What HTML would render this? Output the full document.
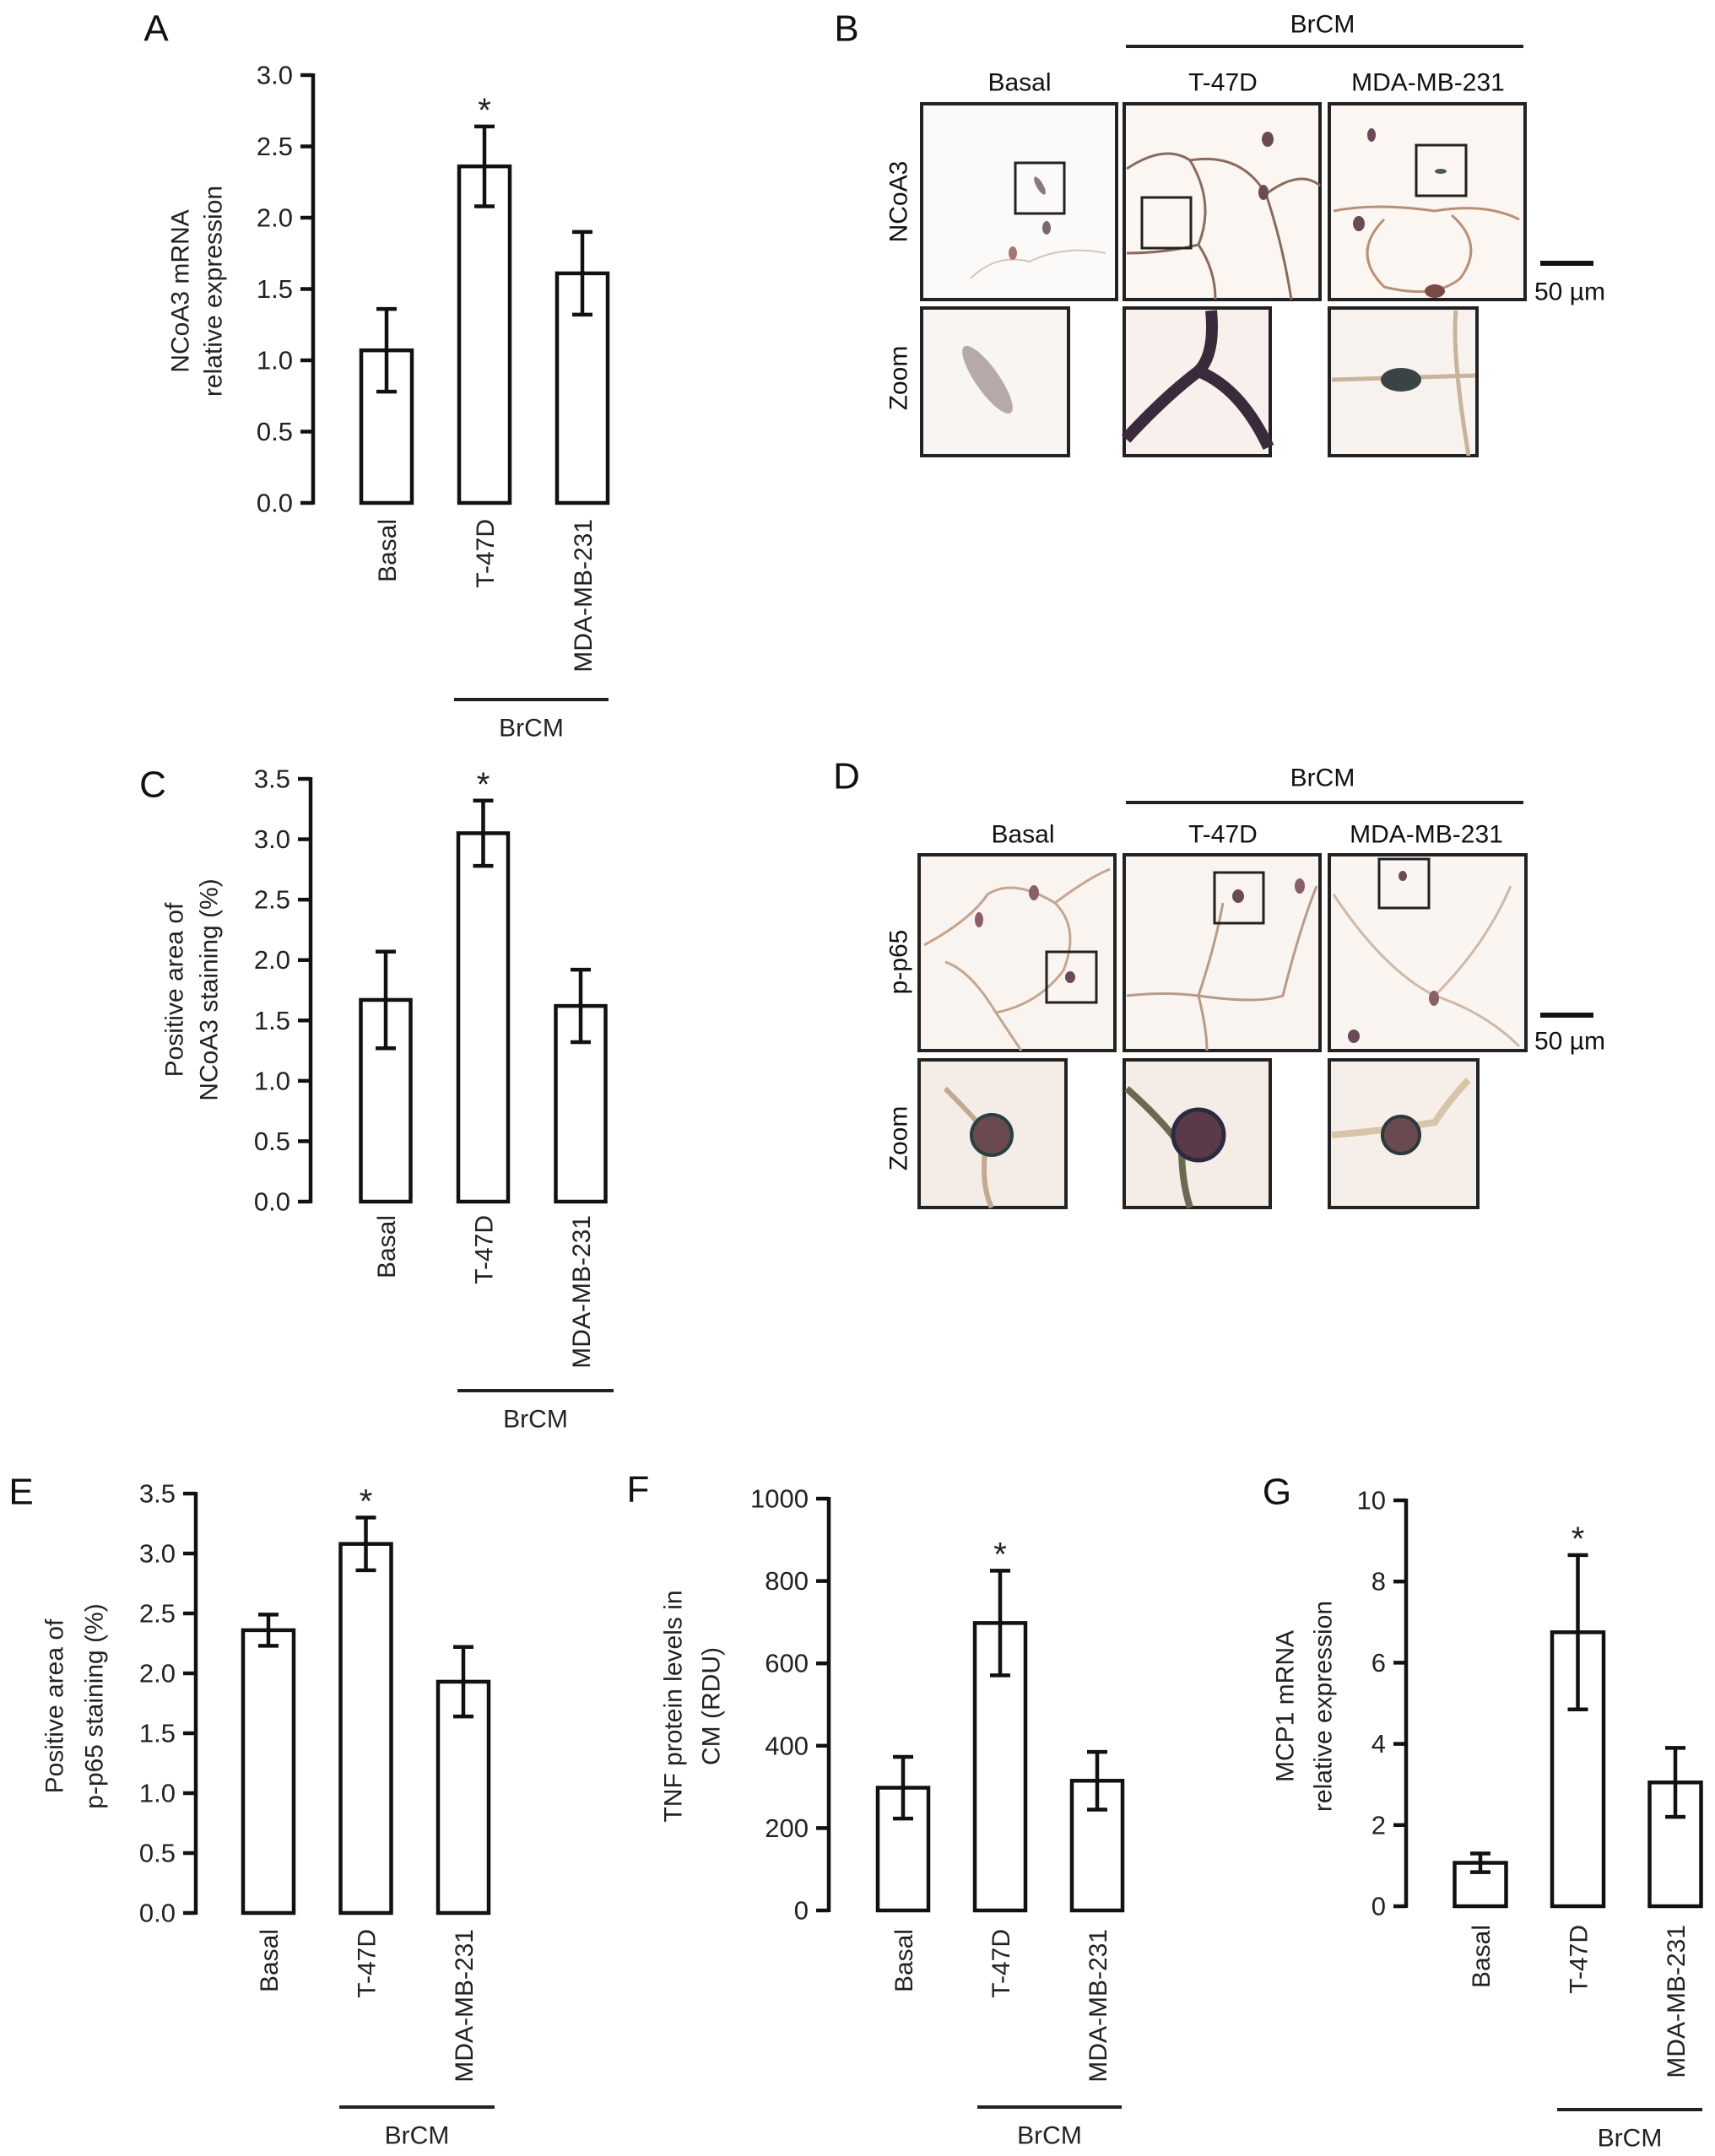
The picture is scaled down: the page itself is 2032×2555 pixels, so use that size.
<!DOCTYPE html>
<html><head><meta charset="utf-8">
<style>
html,body{margin:0;padding:0;background:#fff;}
svg{display:block;font-family:"Liberation Sans",Arial,sans-serif;}
</style></head>
<body>
<svg id="fig" width="2032" height="2555" viewBox="0 0 2032 2555" xmlns="http://www.w3.org/2000/svg">
<rect width="2032" height="2555" fill="#fff"/>
<!-- Panel letters -->
<g font-size="44" fill="#111" text-anchor="middle" dominant-baseline="central">
<text x="185" y="34">A</text>
<text x="1003" y="34">B</text>
<text x="181" y="930">C</text>
<text x="1003" y="920">D</text>
<text x="25" y="1768">E</text>
<text x="756" y="1765">F</text>
<text x="1513" y="1768">G</text>
</g>

<!-- Panel B micrographs -->
<g font-size="30" fill="#111">
<text x="1567" y="29" text-anchor="middle" dominant-baseline="central">BrCM</text>
<line x1="1334" y1="55" x2="1805" y2="55" stroke="#222" stroke-width="4"/>
<text x="1208" y="98" text-anchor="middle" dominant-baseline="central">Basal</text>
<text x="1449" y="98" text-anchor="middle" dominant-baseline="central">T-47D</text>
<text x="1692" y="98" text-anchor="middle" dominant-baseline="central">MDA-MB-231</text>
<text transform="translate(1065,239) rotate(-90)" text-anchor="middle" dominant-baseline="central">NCoA3</text>
<text transform="translate(1065,448) rotate(-90)" text-anchor="middle" dominant-baseline="central">Zoom</text>
<g>
<rect x="1092" y="123" width="231" height="232" fill="#fcfaf8" stroke="#222" stroke-width="4"/>
<path d="M1150 330 Q1180 300 1220 310 Q1260 290 1310 300" stroke="#d9c4b4" stroke-width="2" fill="none"/>
<ellipse cx="1232" cy="220" rx="4" ry="12" fill="#8a7a80" transform="rotate(-30 1232 220)"/>
<ellipse cx="1200" cy="300" rx="5" ry="8" fill="#a47870"/>
<ellipse cx="1240" cy="270" rx="5" ry="8" fill="#7a6870"/>
<rect x="1203" y="193" width="58" height="60" fill="none" stroke="#222" stroke-width="3"/>
</g>
<g>
<rect x="1332" y="123" width="232" height="232" fill="#fcf6f2" stroke="#222" stroke-width="4"/>
<path d="M1335 200 Q1380 170 1410 190 Q1440 240 1420 290 Q1380 300 1335 300 M1420 290 Q1440 320 1440 355 M1410 190 Q1470 180 1500 230 Q1520 290 1530 355 M1500 230 Q1540 200 1564 220" stroke="#8b6a5c" stroke-width="3" fill="none"/>
<ellipse cx="1502" cy="165" rx="7" ry="9" fill="#6a4a55"/>
<ellipse cx="1497" cy="228" rx="6" ry="9" fill="#6a4a55"/>
<rect x="1353" y="234" width="58" height="60" fill="none" stroke="#222" stroke-width="3"/>
</g>
<g>
<rect x="1575" y="123" width="232" height="232" fill="#fcf6f2" stroke="#222" stroke-width="4"/>
<path d="M1580 250 Q1630 240 1700 250 Q1760 240 1800 260 M1640 260 Q1600 300 1640 340 Q1700 355 1730 330 Q1760 290 1720 255" stroke="#b89078" stroke-width="3" fill="none"/>
<ellipse cx="1610" cy="265" rx="7" ry="9" fill="#6a4a55"/>
<ellipse cx="1625" cy="160" rx="5" ry="8" fill="#6a4a55"/>
<ellipse cx="1700" cy="345" rx="12" ry="8" fill="#7a4a48"/>
<ellipse cx="1707" cy="203" rx="7" ry="3" fill="#4a5a58"/>
<rect x="1678" y="172" width="59" height="60" fill="none" stroke="#222" stroke-width="3"/>
</g>
<g>
<rect x="1092" y="365" width="174" height="175" fill="#f8f5f2" stroke="#222" stroke-width="4"/>
<ellipse cx="1170" cy="450" rx="14" ry="48" fill="#9a8a8a" opacity="0.7" transform="rotate(-35 1170 450)"/>
</g>
<g>
<rect x="1332" y="365" width="173" height="175" fill="#f8f0ec" stroke="#222" stroke-width="4"/>
<path d="M1334 520 Q1380 470 1420 440 Q1440 420 1435 368 M1420 440 Q1470 460 1503 530" stroke="#3a2a3a" stroke-width="14" fill="none"/>
</g>
<g>
<rect x="1575" y="365" width="175" height="175" fill="#f8f2ee" stroke="#222" stroke-width="4"/>
<path d="M1578 450 L1748 445 M1725 368 Q1720 420 1740 540" stroke="#c8b49a" stroke-width="5" fill="none"/>
<ellipse cx="1660" cy="450" rx="24" ry="14" fill="#3a4444"/>
</g>
<line x1="1825" y1="312" x2="1888" y2="312" stroke="#111" stroke-width="6"/>
<text x="1818" y="346" dominant-baseline="central">50 µm</text>
</g>

<!-- Panel D micrographs -->
<g font-size="30" fill="#111">
<text x="1567" y="922" text-anchor="middle" dominant-baseline="central">BrCM</text>
<line x1="1334" y1="951" x2="1805" y2="951" stroke="#222" stroke-width="4"/>
<text x="1212" y="989" text-anchor="middle" dominant-baseline="central">Basal</text>
<text x="1449" y="989" text-anchor="middle" dominant-baseline="central">T-47D</text>
<text x="1690" y="989" text-anchor="middle" dominant-baseline="central">MDA-MB-231</text>
<text transform="translate(1065,1140) rotate(-90)" text-anchor="middle" dominant-baseline="central">p-p65</text>
<text transform="translate(1065,1349) rotate(-90)" text-anchor="middle" dominant-baseline="central">Zoom</text>
<g>
<rect x="1089" y="1013" width="232" height="232" fill="#faf4f0" stroke="#222" stroke-width="4"/>
<path d="M1095 1120 Q1150 1090 1170 1060 Q1200 1040 1250 1070 Q1280 1100 1260 1150 Q1230 1190 1180 1200 Q1150 1150 1120 1140 M1180 1200 Q1200 1230 1210 1245 M1250 1070 Q1290 1040 1315 1030" stroke="#c4a690" stroke-width="3" fill="none"/>
<ellipse cx="1160" cy="1090" rx="5" ry="9" fill="#8a6068"/>
<ellipse cx="1225" cy="1058" rx="6" ry="9" fill="#8a6068"/>
<ellipse cx="1268" cy="1158" rx="6" ry="7" fill="#6a4a55"/>
<rect x="1240" y="1128" width="59" height="60" fill="none" stroke="#222" stroke-width="3"/>
</g>
<g>
<rect x="1332" y="1013" width="232" height="232" fill="#faf4f0" stroke="#222" stroke-width="4"/>
<path d="M1335 1180 Q1380 1175 1420 1180 Q1440 1120 1449 1070 M1420 1180 Q1430 1220 1430 1245 M1420 1180 Q1490 1190 1520 1180 Q1540 1100 1560 1050" stroke="#b89a88" stroke-width="3" fill="none"/>
<ellipse cx="1467" cy="1062" rx="7" ry="8" fill="#6a4a55"/>
<ellipse cx="1540" cy="1050" rx="6" ry="9" fill="#8a6068"/>
<rect x="1439" y="1034" width="58" height="60" fill="none" stroke="#222" stroke-width="3"/>
</g>
<g>
<rect x="1575" y="1013" width="233" height="232" fill="#faf5f1" stroke="#222" stroke-width="4"/>
<path d="M1580 1060 Q1640 1150 1700 1180 Q1760 1200 1800 1240 M1700 1180 Q1760 1120 1790 1050" stroke="#d0b8a4" stroke-width="3" fill="none"/>
<ellipse cx="1604" cy="1228" rx="7" ry="8" fill="#6a4a55"/>
<ellipse cx="1699" cy="1183" rx="6" ry="9" fill="#8a6068"/>
<ellipse cx="1662" cy="1038" rx="5" ry="6" fill="#6a4a55"/>
<rect x="1634" y="1018" width="59" height="58" fill="none" stroke="#222" stroke-width="3"/>
</g>
<g>
<rect x="1089" y="1256" width="174" height="175" fill="#f4ece6" stroke="#222" stroke-width="4"/>
<path d="M1120 1290 Q1160 1330 1170 1345 Q1160 1400 1175 1431" stroke="#c4a890" stroke-width="6" fill="none"/>
<circle cx="1175" cy="1345" r="24" fill="#6a4a50" stroke="#2a4040" stroke-width="4"/>
</g>
<g>
<rect x="1332" y="1256" width="173" height="175" fill="#f4ece6" stroke="#222" stroke-width="4"/>
<path d="M1335 1290 Q1380 1330 1400 1360 Q1400 1400 1410 1431" stroke="#6a6a50" stroke-width="8" fill="none"/>
<circle cx="1420" cy="1345" r="30" fill="#5a3a48" stroke="#2a2a40" stroke-width="5"/>
</g>
<g>
<rect x="1575" y="1256" width="176" height="175" fill="#f6efe9" stroke="#222" stroke-width="4"/>
<path d="M1578 1345 Q1640 1340 1700 1330 Q1720 1300 1740 1280" stroke="#d8c4a8" stroke-width="8" fill="none"/>
<circle cx="1660" cy="1345" r="22" fill="#6a4a50" stroke="#2a3a3a" stroke-width="4"/>
</g>
<line x1="1825" y1="1203" x2="1888" y2="1203" stroke="#111" stroke-width="6"/>
<text x="1818" y="1234" dominant-baseline="central">50 µm</text>
</g>
<g id="charts"></g>
</svg>
<script>
// ---- Chart data ----
const categories = ["Basal", "T-47D", "MDA-MB-231"];
const aValues = [1.07, 2.36, 1.61];
const aErrors = [0.29, 0.28, 0.29];
const aTicks = [0, 0.5, 1.0, 1.5, 2.0, 2.5, 3.0];
const cValues = [1.67, 3.05, 1.62];
const cErrors = [0.40, 0.27, 0.30];
const cTicks = [0, 0.5, 1.0, 1.5, 2.0, 2.5, 3.0, 3.5];
const eValues = [2.36, 3.08, 1.93];
const eErrors = [0.13, 0.22, 0.29];
const eTicks = [0, 0.5, 1.0, 1.5, 2.0, 2.5, 3.0, 3.5];
const fValues = [298, 698, 315];
const fErrors = [75, 127, 70];
const fTicks = [0, 200, 400, 600, 800, 1000];
const gValues = [1.07, 6.75, 3.05];
const gErrors = [0.23, 1.9, 0.85];
const gTicks = [0, 2, 4, 6, 8, 10];
const significant = [false, true, false];

const NS = "http://www.w3.org/2000/svg";
const root = document.getElementById("charts");
function mk(tag, attrs, parent) {
  const e = document.createElementNS(NS, tag);
  for (const k in attrs) e.setAttribute(k, attrs[k]);
  (parent || root).appendChild(e);
  return e;
}

function drawChart(cfg) {
  const g = mk("g", {});
  
  
  const ymax = cfg.ticks[cfg.ticks.length - 1];
  const yScale = v => cfg.y0 - (v / ymax) * (cfg.y0 - cfg.yTop);
  const xCenter = i => cfg.axisX + cfg.firstOffset + i * cfg.spacing;
  const ax = mk("line", {x1: cfg.axisX, y1: yScale(ymax) - 2, x2: cfg.axisX, y2: cfg.y0 + 2, stroke: "#111", "stroke-width": 4.5}, g);
  
  
  cfg.ticks.forEach(t => {
    const y = yScale(t);
    const tl = mk("line", {x1: cfg.axisX - 15, y1: y, x2: cfg.axisX, y2: y, stroke: "#111", "stroke-width": 4.5}, g);
    
    
    const tx = mk("text", {x: cfg.axisX - 24, y: y, "text-anchor": "end", "dominant-baseline": "central", "font-size": 31, fill: "#222"}, g);
    
    
    tx.textContent = cfg.decimals ? t.toFixed(1) : String(t);
  });
  cfg.title.forEach((line, k) => {
    const t = mk("text", {transform: "translate(" + cfg.titleX[k] + "," + cfg.titleY + ") rotate(-90)", "text-anchor": "middle", "dominant-baseline": "central", "font-size": 30, fill: "#222"}, g);
    
    
    t.textContent = line;
  });
  cfg.values.forEach((v, i) => {
    const cx = xCenter(i);
    const top = yScale(v);
    const bar = mk("rect", {x: cx - cfg.barW / 2, y: top, width: cfg.barW, height: cfg.y0 - top, fill: "#fff", stroke: "#111", "stroke-width": 4.5}, g);
    
    
    const hi = yScale(v + cfg.errors[i]), lo = yScale(v - cfg.errors[i]);
    const eb = mk("path", {d: "M" + cx + " " + hi + " V" + lo + " M" + (cx - 12) + " " + hi + " H" + (cx + 12) + " M" + (cx - 12) + " " + lo + " H" + (cx + 12), stroke: "#111", "stroke-width": 4.5, fill: "none"}, g);
    
    
    if (significant[i]) {
      const s = mk("text", {x: cx, y: hi - 6, "text-anchor": "middle", "font-size": 40, fill: "#222"}, g);
      
      
      s.textContent = "*";
    }
    const lab = mk("text", {transform: "translate(" + (cx + 11) + "," + cfg.labelTop + ") rotate(-90)", "text-anchor": "end", "font-size": 30, fill: "#222"}, g);
    
    
    lab.textContent = categories[i];
  });
  const br = mk("line", {x1: cfg.brX1, y1: cfg.brY, x2: cfg.brX2, y2: cfg.brY, stroke: "#222", "stroke-width": 4}, g);
  
  
  const bt = mk("text", {x: (cfg.brX1 + cfg.brX2) / 2, y: cfg.brY + 34, "text-anchor": "middle", "dominant-baseline": "central", "font-size": 30, fill: "#222"}, g);
  
  
  bt.textContent = "BrCM";
}

drawChart({id: "a", values: aValues, errors: aErrors, ticks: aTicks, decimals: true,
  axisX: 371, y0: 596, yTop: 89, firstOffset: 87, spacing: 116, barW: 60,
  title: ["NCoA3 mRNA", "relative expression"], titleX: [214, 253], titleY: 345,
  labelTop: 615, brX1: 538, brX2: 721, brY: 829});
drawChart({id: "c", values: cValues, errors: cErrors, ticks: cTicks, decimals: true,
  axisX: 368, y0: 1424, yTop: 923, firstOffset: 89, spacing: 115.5, barW: 59,
  title: ["Positive area of", "NCoA3 staining (%)"], titleX: [207, 248], titleY: 1173,
  labelTop: 1440, brX1: 542, brX2: 727, brY: 1648});
drawChart({id: "e", values: eValues, errors: eErrors, ticks: eTicks, decimals: true,
  axisX: 232, y0: 2267, yTop: 1770, firstOffset: 86, spacing: 115.5, barW: 60,
  title: ["Positive area of", "p-p65 staining (%)"], titleX: [65, 112], titleY: 2022,
  labelTop: 2286, brX1: 402, brX2: 586, brY: 2497});
drawChart({id: "f", values: fValues, errors: fErrors, ticks: fTicks, decimals: false,
  axisX: 982, y0: 2264, yTop: 1776, firstOffset: 88, spacing: 115, barW: 60,
  title: ["TNF protein levels in", "CM (RDU)"], titleX: [798, 843], titleY: 2022,
  labelTop: 2286, brX1: 1158, brX2: 1329, brY: 2497});
drawChart({id: "g", values: gValues, errors: gErrors, ticks: gTicks, decimals: false,
  axisX: 1666, y0: 2259, yTop: 1778, firstOffset: 88, spacing: 115.5, barW: 61,
  title: ["MCP1 mRNA", "relative expression"], titleX: [1523, 1568], titleY: 2022,
  labelTop: 2281, brX1: 1845, brX2: 2017, brY: 2500});
</script>
</body></html>
